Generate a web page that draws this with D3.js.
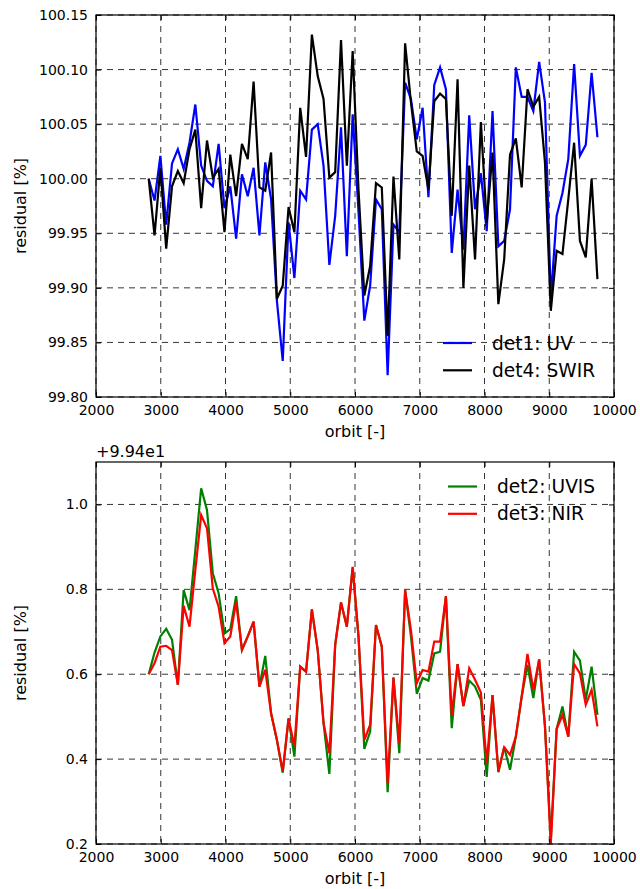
<!DOCTYPE html>
<html><head><meta charset="utf-8">
<script src="https://cdn.jsdelivr.net/npm/d3@7/dist/d3.min.js"></script>
<style>body{margin:0;background:#fff}svg{display:block}text{font-family:"DejaVu Sans",sans-serif}</style>
</head><body>
<svg id="fig" width="640" height="889"></svg>
<script>
const orbits = [2814,2904,2994,3084,3174,3264,3354,3444,3534,3624,3714,3804,3894,3984,4074,4164,4254,4344,4434,4524,
4614,4704,4794,4884,4974,5064,5154,5244,5334,5424,5514,5604,5694,5784,5874,5964,6054,6144,6234,6324,
6414,6504,6594,6684,6774,6864,6954,7044,7134,7224,7314,7404,7494,7584,7674,7764,7854,7944,8034,8124,
8214,8304,8394,8484,8574,8664,8754,8844,8934,9024,9114,9204,9294,9384,9474,9564,9654,9744];

const det1UV = [100.000,99.980,100.021,99.958,100.014,100.027,100.009,100.033,100.068,100.012,
99.998,99.993,100.032,99.973,99.993,99.945,100.004,99.984,100.010,99.948,
100.015,99.981,99.888,99.833,99.960,99.909,99.989,99.981,100.045,100.050,
100.012,99.921,99.966,100.047,99.929,100.059,99.970,99.870,99.902,99.981,
99.972,99.820,99.958,99.951,100.088,100.073,100.036,100.065,99.983,100.086,
100.102,100.082,99.932,99.990,99.935,100.058,99.972,100.005,99.952,100.062,
99.938,99.943,99.972,100.102,100.075,100.075,100.062,100.107,100.070,99.890,
99.966,99.987,100.018,100.105,100.021,100.031,100.097,100.038];

const det4SWIR = [100.000,99.948,100.010,99.936,99.993,100.007,99.996,100.027,100.045,99.973,
100.035,100.001,100.009,99.951,100.022,99.984,100.032,100.018,100.089,99.992,
99.989,100.024,99.890,99.902,99.974,99.951,100.065,100.020,100.132,100.094,
100.073,100.001,100.006,100.127,100.012,100.117,99.990,99.893,99.920,99.996,
99.992,99.856,100.002,99.926,100.124,100.070,100.025,100.021,99.990,100.071,
100.078,100.073,99.966,100.091,99.900,100.012,99.926,100.052,99.960,100.024,
99.885,99.926,100.022,100.037,99.992,100.082,100.066,100.075,100.015,99.879,
99.934,99.931,99.981,100.033,99.943,99.928,100.000,99.908];

const det2UVIS = [0.600,0.651,0.689,0.707,0.681,0.575,0.798,0.751,0.893,1.038,
0.987,0.838,0.791,0.696,0.706,0.784,0.657,0.689,0.724,0.571,
0.643,0.508,0.445,0.368,0.496,0.406,0.618,0.606,0.753,0.657,
0.485,0.365,0.669,0.769,0.712,0.851,0.689,0.424,0.465,0.716,
0.665,0.322,0.592,0.414,0.798,0.689,0.554,0.591,0.585,0.649,
0.653,0.784,0.473,0.624,0.525,0.585,0.571,0.540,0.358,0.551,
0.369,0.428,0.375,0.453,0.547,0.622,0.544,0.635,0.477,0.212,
0.471,0.524,0.453,0.653,0.632,0.540,0.618,0.504];

const det3NIR = [0.600,0.626,0.665,0.667,0.657,0.575,0.761,0.712,0.845,0.975,
0.944,0.802,0.759,0.673,0.689,0.771,0.657,0.689,0.724,0.571,
0.610,0.508,0.445,0.371,0.496,0.430,0.618,0.606,0.753,0.657,
0.485,0.414,0.669,0.769,0.712,0.853,0.689,0.445,0.481,0.716,
0.665,0.344,0.592,0.438,0.798,0.704,0.579,0.610,0.606,0.677,
0.677,0.784,0.504,0.624,0.525,0.614,0.587,0.557,0.391,0.551,
0.371,0.428,0.410,0.453,0.547,0.648,0.563,0.635,0.477,0.200,
0.471,0.504,0.453,0.624,0.602,0.528,0.563,0.477];

const xTicks = [2000,3000,4000,5000,6000,7000,8000,9000,10000];
const yTicksTop = [99.80,99.85,99.90,99.95,100.00,100.05,100.10,100.15];
const yTicksBottom = [0.2,0.4,0.6,0.8,1.0];
const topSeries = [{name:"det1: UV", values:det1UV, color:"#0000ff"},{name:"det4: SWIR", values:det4SWIR, color:"#000000"}];
const bottomSeries = [{name:"det2: UVIS", values:det2UVIS, color:"#008000"},{name:"det3: NIR", values:det3NIR, color:"#ff0000"}];

const svg = d3.select("#fig");
const L = 96, R = 614, W = R - L, H = 382;

function panel(top, yDomain, yTicks, yFmt, series, legendPos, offsetText) {
  const g = svg.append("g").attr("transform", `translate(${L},${top})`);
  const x = d3.scaleLinear().domain([2000,10000]).range([0,W]);
  const y = d3.scaleLinear().domain(yDomain).range([H,0]);
  const grid = g.append("g");
  grid.selectAll("line.gx").data(xTicks).join("line")
    .attr("x1", d=>x(d)).attr("x2", d=>x(d)).attr("y1",0).attr("y2",H)
    .attr("stroke","#000").attr("stroke-width",0.8).attr("stroke-dasharray","6,5");
  grid.selectAll("line.gy").data(yTicks).join("line")
    .attr("y1", d=>y(d)).attr("y2", d=>y(d)).attr("x1",0).attr("x2",W)
    .attr("stroke","#000").attr("stroke-width",0.8).attr("stroke-dasharray","6,5");
  const clipId = "clip"+top;
  g.append("clipPath").attr("id",clipId).append("rect").attr("width",W).attr("height",H);
  const line = d3.line().x((d,i)=>x(orbits[i])).y(d=>y(d));
  series.forEach(s=>{
    g.append("path").datum(s.values).attr("d",line).attr("fill","none")
      .attr("stroke",s.color).attr("stroke-width",2.2).attr("stroke-linejoin","miter")
      .attr("clip-path",`url(#${clipId})`);
  });
  const fs = "14px", lfs = "16px";
  const ax = g.append("g").attr("transform",`translate(0,${H})`)
    .call(d3.axisBottom(x).tickValues(xTicks).tickFormat(d3.format("d")).tickSizeInner(-5).tickSizeOuter(0).tickPadding(8));
  const ay = g.append("g").call(d3.axisLeft(y).tickValues(yTicks).tickFormat(d3.format(yFmt)).tickSizeInner(-5).tickSizeOuter(0).tickPadding(8));
  const at = g.append("g").call(d3.axisTop(x).tickValues(xTicks).tickFormat("").tickSizeInner(-5).tickSizeOuter(0));
  const ar = g.append("g").attr("transform",`translate(${W},0)`).call(d3.axisRight(y).tickValues(yTicks).tickFormat("").tickSizeInner(-5).tickSizeOuter(0));
  [ax,ay,at,ar].forEach(a=>{
    a.select(".domain").remove();
    a.selectAll("text").attr("font-size",fs).attr("fill","#000").attr("font-family","DejaVu Sans");
    a.selectAll(".tick line").attr("stroke","#000").attr("stroke-width",1);
  });
  g.append("rect").attr("width",W).attr("height",H).attr("fill","none").attr("stroke","#000").attr("stroke-width",1.2);
  g.append("text").attr("x",W/2).attr("y",H+40).attr("text-anchor","middle").attr("font-size",lfs).text("orbit [-]");
  g.append("text").attr("transform",`translate(${-70},${H/2}) rotate(-90)`).attr("text-anchor","middle").attr("font-size",lfs).text("residual [%]");
  if (offsetText) g.append("text").attr("x",0).attr("y",-5).attr("font-size",lfs).text(offsetText);
  const lg = g.append("g").attr("transform",`translate(${legendPos[0]-L},${legendPos[1]-top})`);
  series.forEach((s,i)=>{
    lg.append("line").attr("x1",0).attr("x2",29).attr("y1",i*27.3).attr("y2",i*27.3).attr("stroke",s.color).attr("stroke-width",2.2);
    lg.append("text").attr("x",49).attr("y",i*27.3).attr("dy","0.36em").attr("font-size","18.6px").text(s.name);
  });
}

panel(15, [99.80,100.15], yTicksTop, ".2f", topSeries, [443,343], null);
panel(462, [0.2,1.1], yTicksBottom, ".1f", bottomSeries, [448,486.5], "+9.94e1");
</script>
</body></html>
